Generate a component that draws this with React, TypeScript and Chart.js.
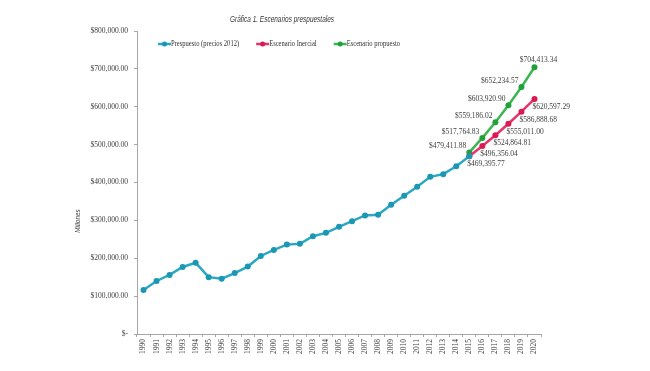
import React, { useEffect, useRef } from "react";
import { Chart, registerables } from "chart.js";

Chart.register(...registerables);

const years = [
  "1990","1991","1992","1993","1994","1995","1996","1997","1998","1999",
  "2000","2001","2002","2003","2004","2005","2006","2007","2008","2009",
  "2010","2011","2012","2013","2014","2015","2016","2017","2018","2019","2020",
];

const presupuesto: (number | null)[] = [
  116000, 140000, 156000, 177000, 188000, 150000, 146000, 161000, 178000, 206000,
  222000, 236000, 238000, 258000, 267000, 283000, 298000, 313000, 315000, 341000,
  365000, 389000, 415000, 422000, 443000, 469395.77, null, null, null, null, null,
];

const inercial: (number | null)[] = [
  null, null, null, null, null, null, null, null, null, null,
  null, null, null, null, null, null, null, null, null, null,
  null, null, null, null, null,
  469395.77, 496356.04, 524864.81, 555011.0, 586888.68, 620597.29,
];

const propuesto: (number | null)[] = [
  null, null, null, null, null, null, null, null, null, null,
  null, null, null, null, null, null, null, null, null, null,
  null, null, null, null, null,
  479411.88, 517764.83, 559186.02, 603920.9, 652234.57, 704413.34,
];

const yTicks = [0, 100000, 200000, 300000, 400000, 500000, 600000, 700000, 800000];

const seriesNames = ["Prespuesto (precios 2012)", "Escenario Inercial", "Escenario propuesto"];
const lineColors = ["#2BA8C4", "#E8336A", "#3DB552"];
const pointColors = ["#1C97B3", "#D81B50", "#22A03C"];

const SERIF = "'Liberation Serif', 'DejaVu Serif', serif";
const SANS = "'Liberation Sans', 'DejaVu Sans', sans-serif";

function money(v: number): string {
  if (v === 0) return "$-";
  return "$" + v.toLocaleString("en-US", { minimumFractionDigits: 2, maximumFractionDigits: 2 });
}

function squeezed(ctx: CanvasRenderingContext2D, text: string, x: number, y: number, sx: number) {
  ctx.save();
  ctx.translate(x, y);
  ctx.scale(sx, 1);
  ctx.fillText(text, 0, 0);
  ctx.restore();
}

const decorPlugin = {
  id: "decor",
  afterDraw(chart: any) {
    const ctx = chart.ctx as CanvasRenderingContext2D;
    ctx.save();
    // Title
    ctx.fillStyle = "#333333";
    ctx.font = `italic 9px ${SANS}`;
    ctx.textAlign = "center";
    ctx.textBaseline = "middle";
    squeezed(ctx, "Gráfica 1. Escenarios prespuestales", 282, 19, 0.72);

    // Y axis title
    ctx.save();
    ctx.translate(78, 221);
    ctx.rotate(-Math.PI / 2);
    ctx.font = `italic 8px ${SANS}`;
    ctx.fillStyle = "#404040";
    squeezed(ctx, "Millones", 0, 0, 0.8);
    ctx.restore();

    // Legend
    ctx.font = `8px ${SERIF}`;
    ctx.textAlign = "left";
    const sx = 0.82;
    let x = 158;
    const ly = 44;
    chart.data.datasets.forEach((ds: any, i: number) => {
      ctx.strokeStyle = lineColors[i];
      ctx.lineWidth = 2.5;
      ctx.beginPath();
      ctx.moveTo(x, ly);
      ctx.lineTo(x + 13, ly);
      ctx.stroke();
      ctx.fillStyle = pointColors[i];
      ctx.beginPath();
      ctx.arc(x + 6.5, ly, 2.5, 0, Math.PI * 2);
      ctx.fill();
      ctx.fillStyle = "#333333";
      squeezed(ctx, ds.label, x + 13, ly, sx);
      x += 13 + ctx.measureText(ds.label).width * sx + 17;
    });

    // Data labels
    ctx.font = `7.5px ${SERIF}`;
    ctx.fillStyle = "#404040";
    ctx.textBaseline = "middle";
    [1, 2].forEach((di) => {
      const meta = chart.getDatasetMeta(di);
      const data = chart.data.datasets[di].data;
      meta.data.forEach((pt: any, idx: number) => {
        const v = data[idx];
        if (v == null) return;
        const txt = money(v);
        if (di === 1) {
          ctx.textAlign = "left";
          ctx.fillText(txt, pt.x - 2, pt.y + 8);
        } else {
          if (idx === data.length - 1) {
            ctx.textAlign = "center";
            ctx.fillText(txt, pt.x + 4, pt.y - 7);
          } else {
            ctx.textAlign = "right";
            ctx.fillText(txt, pt.x - 3, pt.y - 6);
          }
        }
      });
    });
    ctx.restore();
  },
};

export default function App() {
  const ref = useRef<HTMLCanvasElement | null>(null);
  useEffect(() => {
    document.body.style.margin = "0";
    const canvas = ref.current!;
    const datasets = [presupuesto, inercial, propuesto].map((d, i) => ({
      label: seriesNames[i],
      data: d,
      borderColor: lineColors[i],
      backgroundColor: pointColors[i],
      pointBackgroundColor: pointColors[i],
      pointBorderColor: pointColors[i],
      borderWidth: 2.5,
      pointRadius: 3,
      pointBorderWidth: 0,
      pointHoverRadius: 3,
      tension: 0,
      spanGaps: false,
    }));
    const chart = new Chart(canvas, {
      type: "line",
      data: { labels: years, datasets },
      plugins: [decorPlugin],
      options: {
        responsive: false,
        animation: false,
        maintainAspectRatio: false,
        layout: { padding: { top: 31, right: 109, bottom: 0, left: 0 } },
        plugins: {
          legend: { display: false },
          title: { display: false },
          tooltip: { enabled: false },
        },
        scales: {
          x: {
            type: "category",
            offset: true,
            grid: {
              display: true,
              offset: true,
              drawOnChartArea: false,
              drawTicks: true,
              tickLength: 3,
              color: "#A6A6A6",
            },
            border: { display: true, color: "#A6A6A6", width: 1 },
            ticks: {
              autoSkip: false,
              maxRotation: 90,
              minRotation: 90,
              padding: 2,
              color: "#404040",
              font: { family: SERIF, size: 7.5 },
            },
            afterFit(scale: any) {
              scale.height = 371 - 334;
            },
          },
          y: {
            min: 0,
            max: 800000,
            afterBuildTicks(scale: any) {
              scale.ticks = yTicks.map((v) => ({ value: v }));
            },
            grid: {
              display: true,
              drawOnChartArea: false,
              drawTicks: true,
              tickLength: 3,
              color: "#A6A6A6",
            },
            border: { display: true, color: "#A6A6A6", width: 1 },
            ticks: {
              color: "#404040",
              padding: 6,
              font: { family: SERIF, size: 7.5 },
              callback: (v: any) => money(Number(v)),
            },
            afterFit(scale: any) {
              scale.width = 137;
            },
          },
        },
      },
    });
    return () => chart.destroy();
  }, []);
  return (
    <div style={{ position: "relative", width: 650, height: 371 }}>
      <canvas ref={ref} width={650} height={371} style={{ width: 650, height: 371, display: "block" }} />
    </div>
  );
}
